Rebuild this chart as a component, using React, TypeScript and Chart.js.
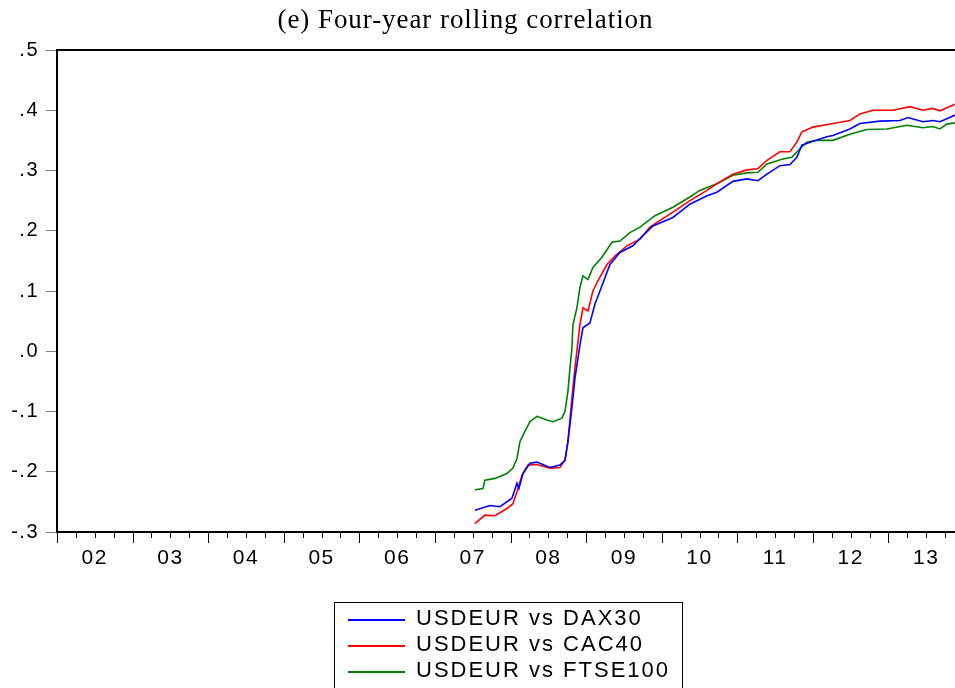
import React, { useEffect, useRef } from "react";
import { Chart, registerables } from "chart.js";

Chart.register(...registerables);

const TITLE = "(e) Four-year rolling correlation";
const seriesLabels = ["USDEUR vs DAX30", "USDEUR vs CAC40", "USDEUR vs FTSE100"];
const seriesColors = ["rgb(0,0,255)", "rgb(255,0,0)", "rgb(0,128,0)"];

const xTickLabels = ["02", "03", "04", "05", "06", "07", "08", "09", "10", "11", "12", "13"];
const yearStarts = [2002, 2003, 2004, 2005, 2006, 2007, 2008, 2009, 2010, 2011, 2012, 2013];
const yTickValues = [-0.3, -0.2, -0.1, 0.0, 0.1, 0.2, 0.3, 0.4, 0.5];
const yTickLabels = ["-.3", "-.2", "-.1", ".0", ".1", ".2", ".3", ".4", ".5"];
const xMin = 2002;
const xMax = 2013.88;

// USDEUR vs DAX30 (blue)
const daxDates = [
  2007.529, 2007.728, 2007.86, 2008.019, 2008.085, 2008.111, 2008.164, 2008.257, 2008.349, 2008.521,
  2008.653, 2008.72, 2008.759, 2008.812, 2008.852, 2008.918, 2008.958, 2009.05, 2009.116, 2009.183,
  2009.315, 2009.447, 2009.619, 2009.751, 2009.884, 2010.148, 2010.373, 2010.598, 2010.73, 2010.942,
  2011.127, 2011.272, 2011.392, 2011.563, 2011.696, 2011.788, 2011.854, 2011.96, 2012.185, 2012.265,
  2012.489, 2012.622, 2012.886, 2013.151, 2013.257, 2013.455, 2013.587, 2013.68, 2013.772, 2013.878,
];
const daxValues = [
  -0.264, -0.256, -0.258, -0.244, -0.219, -0.228, -0.203, -0.186, -0.184, -0.193,
  -0.189, -0.181, -0.15, -0.094, -0.045, 0.01, 0.039, 0.047, 0.078, 0.1,
  0.144, 0.164, 0.175, 0.192, 0.208, 0.222, 0.244, 0.258, 0.264, 0.282,
  0.286, 0.283, 0.294, 0.308, 0.31, 0.322, 0.342, 0.347, 0.356, 0.358,
  0.369, 0.378, 0.382, 0.383, 0.388, 0.381, 0.383, 0.381, 0.386, 0.392,
];

// USDEUR vs CAC40 (red)
const cacDates = [
  2007.529, 2007.661, 2007.794, 2007.952, 2008.032, 2008.085, 2008.151, 2008.23, 2008.349, 2008.521,
  2008.653, 2008.72, 2008.759, 2008.812, 2008.852, 2008.918, 2008.958, 2009.024, 2009.09, 2009.156,
  2009.275, 2009.381, 2009.54, 2009.712, 2009.844, 2009.937, 2010.148, 2010.373, 2010.598, 2010.73,
  2010.942, 2011.127, 2011.272, 2011.392, 2011.563, 2011.696, 2011.788, 2011.854, 2012.0, 2012.265,
  2012.489, 2012.622, 2012.794, 2013.058, 2013.283, 2013.455, 2013.587, 2013.68, 2013.772, 2013.878,
];
const cacValues = [
  -0.286, -0.272, -0.273, -0.261, -0.253, -0.233, -0.206, -0.189, -0.188, -0.194,
  -0.193, -0.181, -0.15, -0.078, -0.028, 0.044, 0.072, 0.067, 0.1, 0.117,
  0.144, 0.158, 0.175, 0.186, 0.206, 0.214, 0.231, 0.25, 0.267, 0.278,
  0.294, 0.301, 0.303, 0.317, 0.331, 0.331, 0.347, 0.364, 0.372, 0.378,
  0.383, 0.394, 0.4, 0.4, 0.406, 0.4, 0.403, 0.399, 0.404, 0.41,
];

// USDEUR vs FTSE100 (green)
const ftseDates = [
  2007.529, 2007.635, 2007.661, 2007.794, 2007.952, 2008.032, 2008.085, 2008.124, 2008.19, 2008.257,
  2008.349, 2008.481, 2008.561, 2008.68, 2008.72, 2008.759, 2008.786, 2008.812, 2008.825, 2008.878,
  2008.918, 2008.958, 2009.024, 2009.09, 2009.209, 2009.341, 2009.447, 2009.579, 2009.712, 2009.91,
  2010.148, 2010.373, 2010.505, 2010.73, 2010.942, 2011.127, 2011.272, 2011.392, 2011.603, 2011.722,
  2011.828, 2011.918, 2012.053, 2012.265, 2012.489, 2012.714, 2012.979, 2013.243, 2013.455, 2013.587,
  2013.68, 2013.772, 2013.878,
];
const ftseValues = [
  -0.23, -0.228, -0.214, -0.211, -0.203, -0.194, -0.178, -0.15, -0.133, -0.117,
  -0.108, -0.114, -0.117, -0.111, -0.1, -0.067, -0.028, 0.005, 0.044, 0.072,
  0.106, 0.125, 0.119, 0.139, 0.156, 0.181, 0.183, 0.197, 0.206, 0.225,
  0.239, 0.256, 0.267, 0.278, 0.292, 0.296, 0.297, 0.311, 0.319, 0.322,
  0.336, 0.347, 0.35, 0.35, 0.36, 0.368, 0.369, 0.375, 0.371, 0.373,
  0.369, 0.377, 0.379,
];

const toPoints = (xs: number[], ys: number[]) => xs.map((x, i) => ({ x, y: ys[i] }));

const framePlugin = {
  id: "eviewsFrame",
  beforeDraw(chart: any) {
    chart.ctx.letterSpacing = "1.5px";
  },
  afterDraw(chart: any) {
    const { ctx, chartArea } = chart;
    const xs = chart.scales.x;
    ctx.save();
    // title
    ctx.fillStyle = "#000";
    ctx.font = "27px 'Liberation Serif', 'Times New Roman', serif";
    ctx.letterSpacing = "0px";
    ctx.textBaseline = "middle";
    const tw = ctx.measureText(TITLE).width;
    const targetW = 375;
    const extra = Math.max(-1, Math.min(1.5, (targetW - tw) / (TITLE.length - 1)));
    ctx.letterSpacing = `${extra}px`;
    ctx.textAlign = "left";
    const realW = tw + extra * (TITLE.length - 1);
    ctx.fillText(TITLE, 465 - realW / 2, 21);
    // top border
    ctx.letterSpacing = "0px";
    ctx.strokeStyle = "#000";
    ctx.lineWidth = 2;
    ctx.beginPath();
    ctx.moveTo(chartArea.left - 1, chartArea.top);
    ctx.lineTo(chartArea.right, chartArea.top);
    ctx.stroke();
    // x tick marks (yearly major, quarterly minor)
    ctx.lineWidth = 1;
    ctx.strokeStyle = "#000";
    const base = chartArea.bottom;
    yearStarts.forEach((yr) => {
      for (let q = 0; q < 4; q++) {
        const v = yr + q / 4;
        if (v > xMax) continue;
        const px = Math.round(xs.getPixelForValue(v)) + 0.5;
        ctx.beginPath();
        ctx.moveTo(px, base);
        ctx.lineTo(px, base + (q === 0 ? 11 : 6));
        ctx.stroke();
      }
    });
    // legend
    const lx = 334.5;
    const ly = 602.5;
    ctx.lineWidth = 1;
    ctx.strokeStyle = "#000";
    ctx.strokeRect(lx, ly, 348, 100);
    ctx.font = "22px 'Liberation Sans', Arial, sans-serif";
    ctx.letterSpacing = "2px";
    ctx.textAlign = "left";
    ctx.textBaseline = "middle";
    ctx.fillStyle = "#000";
    seriesLabels.forEach((lab, i) => {
      const yy = 620 + i * 26;
      ctx.strokeStyle = seriesColors[i];
      ctx.lineWidth = 2;
      ctx.beginPath();
      ctx.moveTo(348, yy);
      ctx.lineTo(405, yy);
      ctx.stroke();
      ctx.fillText(lab, 416, yy - 1);
    });
    ctx.letterSpacing = "0px";
    ctx.restore();
  },
};

export default function App() {
  const ref = useRef<HTMLCanvasElement | null>(null);
  useEffect(() => {
    if (!ref.current) return;
    const chart = new Chart(ref.current, {
      type: "line",
      data: {
        datasets: [
          { label: seriesLabels[0], data: toPoints(daxDates, daxValues), borderColor: seriesColors[0] },
          { label: seriesLabels[1], data: toPoints(cacDates, cacValues), borderColor: seriesColors[1] },
          { label: seriesLabels[2], data: toPoints(ftseDates, ftseValues), borderColor: seriesColors[2] },
        ].map((d) => ({ ...d, borderWidth: 1.6, pointRadius: 0, tension: 0, fill: false })),
      },
      options: {
        animation: false,
        responsive: false,
        layout: { padding: { left: 0, right: 0, top: 50, bottom: 116 } },
        plugins: {
          legend: { display: false },
          tooltip: { enabled: false },
          title: { display: false },
        },
        scales: {
          x: {
            type: "linear",
            min: xMin,
            max: xMax,
            afterBuildTicks: (scale: any) => {
              scale.ticks = yearStarts.map((y) => ({ value: y + 0.5 }));
            },
            afterFit: (scale: any) => {
              scale.height = 40;
            },
            grid: { display: false, drawTicks: false },
            border: { display: true, color: "#000", width: 2 },
            ticks: {
              autoSkip: false,
              maxRotation: 0,
              padding: 14,
              color: "#000",
              font: { family: "'Liberation Sans', Arial, sans-serif", size: 21 },
              callback: (v: any) => {
                const i = yearStarts.indexOf(Math.round(Number(v) - 0.5));
                return i >= 0 ? xTickLabels[i] : "";
              },
            },
          },
          y: {
            min: -0.3,
            max: 0.5,
            afterBuildTicks: (scale: any) => {
              scale.ticks = yTickValues.map((v) => ({ value: v }));
            },
            afterFit: (scale: any) => {
              scale.width = 57;
            },
            grid: { drawOnChartArea: false, drawTicks: true, tickLength: 11, color: "#808080" },
            border: { display: true, color: "#000", width: 2 },
            ticks: {
              padding: 7,
              color: "#000",
              font: { family: "'Liberation Sans', Arial, sans-serif", size: 20 },
              callback: (v: any) => {
                const i = yTickValues.findIndex((t) => Math.abs(t - Number(v)) < 1e-6);
                return i >= 0 ? yTickLabels[i] : "";
              },
            },
          },
        },
      },
      plugins: [framePlugin],
    } as any);
    return () => chart.destroy();
  }, []);
  return (
    <div style={{ position: "fixed", left: 0, top: 0, width: 955, height: 688, background: "#fff" }}>
      <canvas ref={ref} width={955} height={688} style={{ display: "block" }} />
    </div>
  );
}
